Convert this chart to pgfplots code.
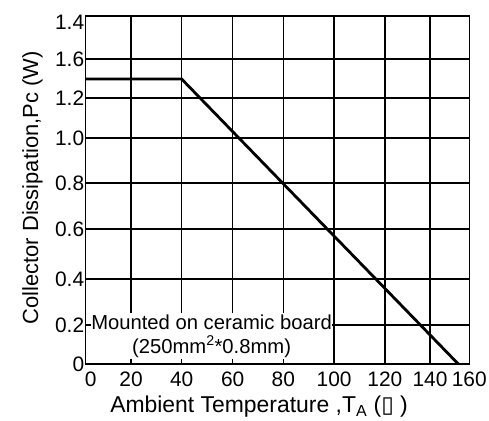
\documentclass[border=0pt]{standalone}
\usepackage{fontspec}
\setmainfont{Liberation Sans}
\newfontfamily\dejavu{DejaVu Sans}
\usepackage{pgfplots}
\pgfplotsset{compat=1.18}
\begin{document}
\begin{tikzpicture}
\begin{axis}[
  scale only axis,
  width=383.6bp, height=348bp,
  xmin=0, xmax=160, ymin=0, ymax=1.6,
  xtick={0,18.9,40.04,61.3,82.4,103.6,124.8,143.6,160},
  xticklabels={\hspace*{10bp}0,20,40,60,80,100,120,140,160},
  ytick={0,0.179,0.391,0.621,0.832,1.039,1.223,1.402,1.6},
  yticklabels={0,0.2,0.4,0.6,0.8,1.0,1.2,1.6,\raisebox{-13.5bp}[0pt][0pt]{1.4}},
  grid=major,
  major grid style={black, line width=1.3bp},
  axis line style={black, line width=1.5bp},
  major tick length=0pt,
  ticklabel style={font=\fontsize{21}{24}\selectfont},
  yticklabel style={xshift=2bp},
  xticklabel style={yshift=-4bp},
  xlabel={Ambient Temperature ,T\textsubscript{A} ({\dejavu ▯} )},
  ylabel={Collector Dissipation,Pc (W)},
  xlabel style={font=\fontsize{23}{26}\selectfont, at={(axis description cs:0.452,-0.1408)}, anchor=base},
  ylabel style={font=\fontsize{22}{25}\selectfont, at={(axis description cs:-0.1243,0.506)}, anchor=base},
]
\addplot[black, line width=2.8bp] coordinates {(0,1.31) (40.04,1.31) (155.4,0)};
\node[fill=white, inner sep=0pt, minimum width=239bp, minimum height=46bp, align=center,
  font=\fontsize{20.3}{24}\selectfont] at (axis cs:52.5,0.1287) {Mounted on ceramic board\\(250mm\textsuperscript{2}*0.8mm)};
\end{axis}
\pgfresetboundingbox
\path ([shift={(-85.7bp,-57bp)}]current axis.south west) rectangle ([shift={(19.7bp,16bp)}]current axis.north east);
\end{tikzpicture}
\end{document}
